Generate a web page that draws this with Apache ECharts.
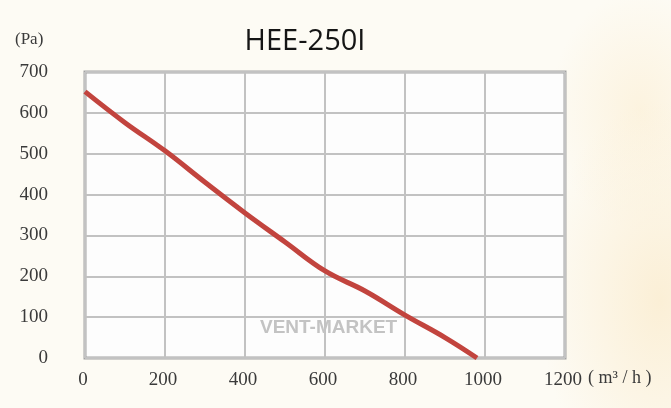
<!DOCTYPE html>
<html>
<head>
<meta charset="utf-8">
<script src="https://cdn.jsdelivr.net/npm/echarts@6/dist/echarts.min.js"></script>
<style>
  html, body { margin: 0; padding: 0; }
  body {
    width: 671px; height: 408px; overflow: hidden;
    background: radial-gradient(ellipse 120px 200px at 660px 300px, #fbefd6 0%, rgba(251,239,214,0) 100%),
                radial-gradient(ellipse 90px 120px at 640px 110px, #fcf3df 0%, rgba(252,243,223,0) 100%),
                #fdfbf4;
  }
  #chart { width: 671px; height: 408px; }
</style>
</head>
<body>
<div id="chart"></div>
<script>
// flow (m3/h) vs static pressure (Pa)
var flow = [0, 100, 200, 300, 400, 500, 600, 700, 800, 900, 980];
var pressure = [652, 576, 507, 430, 355, 284, 213, 164, 105, 50, 0];
var xTicks = [0, 200, 400, 600, 800, 1000, 1200];
var yTicks = [0, 100, 200, 300, 400, 500, 600, 700];

var chart = echarts.init(document.getElementById("chart"));

var points = flow.map(function (f, i) { return [f, pressure[i]]; });

var labelFont = {
  fontFamily: "Liberation Serif",
  fontSize: 19,
  color: "#3a3a3a",
  formatter: function (v) { return String(v); }
};

chart.setOption({
  animation: false,
  backgroundColor: "transparent",
  title: {
    text: "HEE-250I",
    left: 300,
    top: 22,
    textAlign: "center",
    textStyle: {
      fontFamily: "Open Sans",
      fontWeight: "normal",
      fontSize: 29,
      color: "#151515"
    }
  },
  grid: {
    left: 85,
    right: 106,
    top: 72,
    bottom: 50,
    show: true,
    backgroundColor: "#fdfdfd",
    borderColor: "#a3a3a3",
    borderWidth: 3
  },
  xAxis: {
    type: "value",
    min: xTicks[0],
    max: xTicks[xTicks.length - 1],
    interval: 200,
    axisLine: { show: false },
    axisTick: { show: false },
    axisLabel: Object.assign({ margin: 13, padding: [0, 4, 0, 0] }, labelFont),
    splitLine: { lineStyle: { color: "#c2c2c2", width: 2 } }
  },
  yAxis: {
    type: "value",
    min: yTicks[0],
    max: yTicks[yTicks.length - 1],
    interval: 100,
    axisLine: { show: false },
    axisTick: { show: false },
    axisLabel: Object.assign({ margin: 37 }, labelFont),
    splitLine: { lineStyle: { color: "#c2c2c2", width: 2 } }
  },
  graphic: [
    {
      type: "text",
      left: 15,
      top: 31,
      style: {
        text: "(Pa)",
        font: "17px 'Liberation Serif'",
        fill: "#3a3a3a"
      }
    },
    {
      type: "text",
      left: 588,
      top: 369,
      style: {
        text: "( m³ / h )",
        font: "18px 'Liberation Serif'",
        fill: "#3a3a3a"
      }
    },
    {
      type: "text",
      left: 260,
      top: 318,
      z: 1,
      style: {
        text: "VENT-MARKET",
        font: "bold 19px 'Liberation Sans'",
        fill: "#c3c3c3"
      }
    }
  ],
  series: [
    {
      type: "line",
      data: points,
      smooth: 0.4,
      symbol: "none",
      z: 5,
      lineStyle: { color: "#c2443e", width: 5 }
    }
  ]
});
</script>
</body>
</html>
